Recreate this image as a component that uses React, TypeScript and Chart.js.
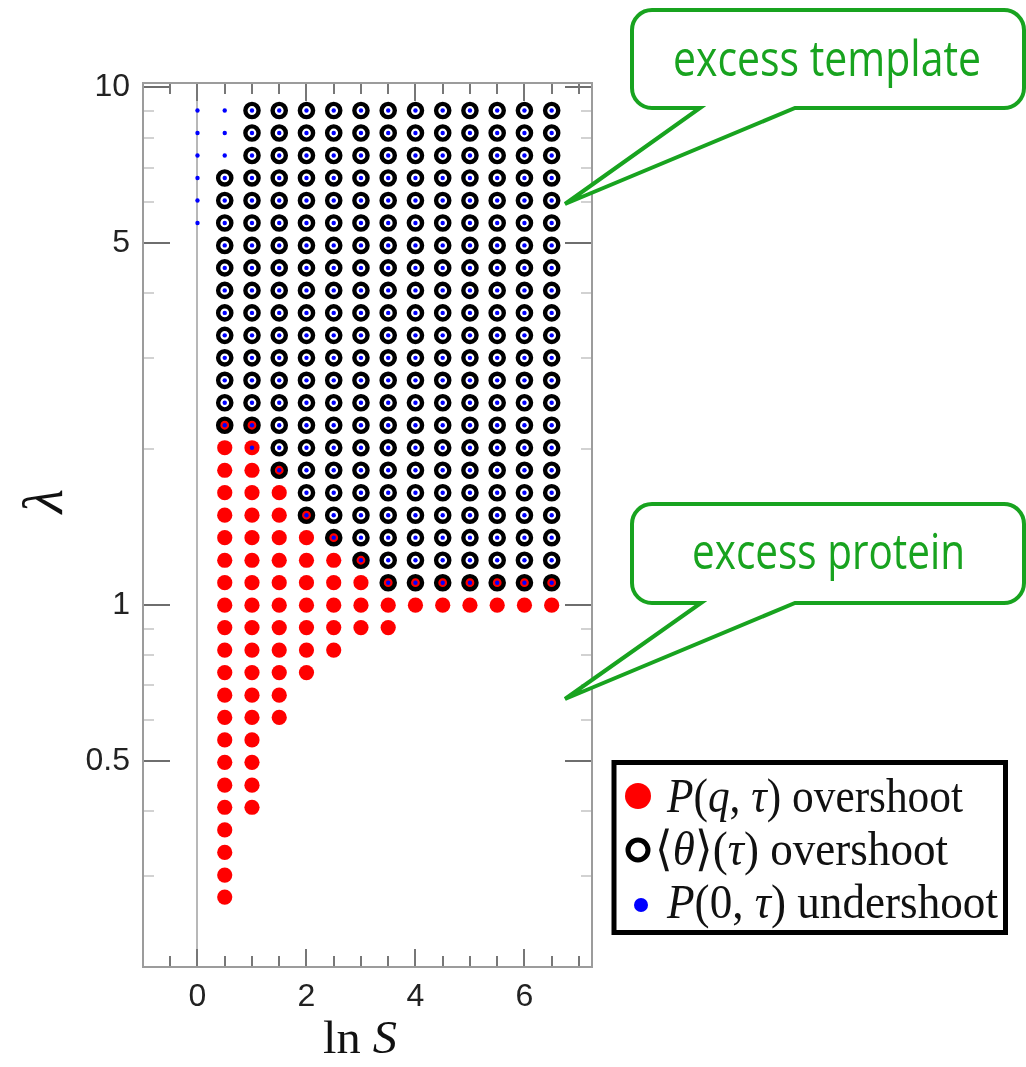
import React, { useEffect, useRef } from "react";
import { Chart, registerables } from "chart.js";
Chart.register(...registerables);

// ln S columns
const lnSValues = [0, 0.5, 1, 1.5, 2, 2.5, 3, 3.5, 4, 4.5, 5, 5.5, 6, 6.5];
// λ levels of the sampled grid (rows)
const lambdaLevels = [
  0.273, 0.301, 0.333, 0.368, 0.407, 0.449, 0.497, 0.549, 0.607, 0.67, 0.741, 0.819, 0.905, 1.0,
  1.105, 1.221, 1.35, 1.492, 1.649, 1.822, 2.014, 2.226, 2.46, 2.718, 3.004, 3.32, 3.669, 4.055,
  4.482, 4.953, 5.474, 6.05, 6.686, 7.389, 8.166, 9.025,
];
// per column: lowest / highest λ where each marker is present (null = none)
const pOvershootLow = [null, 0.273, 0.407, 0.607, 0.741, 0.819, 0.905, 0.905, 1.0, 1.0, 1.0, 1.0, 1.0, 1.0];
const pOvershootHigh = [null, 2.226, 2.226, 1.822, 1.492, 1.35, 1.221, 1.105, 1.105, 1.105, 1.105, 1.105, 1.105, 1.105];
const thetaLow = [null, 2.226, 2.226, 1.822, 1.492, 1.35, 1.221, 1.105, 1.105, 1.105, 1.105, 1.105, 1.105, 1.105];
const thetaHigh = [null, 6.686, 9.025, 9.025, 9.025, 9.025, 9.025, 9.025, 9.025, 9.025, 9.025, 9.025, 9.025, 9.025];
const p0Low = [5.474, 2.226, 2.014, 1.822, 1.492, 1.35, 1.221, 1.105, 1.105, 1.105, 1.105, 1.105, 1.105, 1.105];
const p0High = [9.025, 9.025, 9.025, 9.025, 9.025, 9.025, 9.025, 9.025, 9.025, 9.025, 9.025, 9.025, 9.025, 9.025];

// axis ticks
const xTickLabels = [0, 2, 4, 6];
const xMinorTicks = [-0.5, 0.5, 1, 1.5, 2.5, 3, 3.5, 4.5, 5, 5.5, 6.5, 7];
const yTickLabels = [0.5, 1, 5, 10];
const yMinorTicks = [0.3, 0.4, 0.6, 0.7, 0.8, 0.9, 2, 3, 4, 6, 7, 8, 9];

function buildPoints(low: (number | null)[], high: (number | null)[]) {
  const pts: { x: number; y: number }[] = [];
  lnSValues.forEach((x, i) => {
    const lo = low[i];
    const hi = high[i];
    if (lo == null || hi == null) return;
    lambdaLevels.forEach((l) => {
      if (l >= lo - 1e-9 && l <= hi + 1e-9) pts.push({ x, y: l });
    });
  });
  return pts;
}

const framePlugin = {
  id: "frame",
  beforeDatasetsDraw(chart: any) {
    const { ctx, chartArea: a, scales } = chart;
    const xs = scales.x;
    const ys = scales.y;
    const line = (x1: number, y1: number, x2: number, y2: number) => {
      ctx.beginPath();
      ctx.moveTo(x1, y1);
      ctx.lineTo(x2, y2);
      ctx.stroke();
    };
    ctx.save();
    ctx.lineWidth = 2;
    // zero line
    ctx.strokeStyle = "#b8b8b8";
    const x0 = Math.round(xs.getPixelForValue(0));
    line(x0, a.top, x0, a.bottom);
    // y minor ticks
    ctx.strokeStyle = "#d2d2d2";
    yMinorTicks.forEach((v) => {
      const py = Math.round(ys.getPixelForValue(v));
      line(a.left, py, a.left + 11, py);
      line(a.right, py, a.right - 11, py);
    });
    // y major ticks
    ctx.strokeStyle = "#6e6e6e";
    yTickLabels.forEach((v) => {
      const py = Math.round(ys.getPixelForValue(v));
      line(a.left, py, a.left + 27, py);
      line(a.right, py, a.right - 27, py);
    });
    // x ticks
    ctx.strokeStyle = "#777";
    xMinorTicks.forEach((v) => {
      const px = Math.round(xs.getPixelForValue(v));
      line(px, a.bottom, px, a.bottom - 11);
      line(px, a.top, px, a.top + 11);
    });
    xTickLabels.forEach((v) => {
      const px = Math.round(xs.getPixelForValue(v));
      line(px, a.bottom, px, a.bottom - 18);
      line(px, a.top, px, a.top + 18);
    });
    // frame
    ctx.strokeStyle = "#9c9c9c";
    ctx.strokeRect(a.left, a.top, a.right - a.left, a.bottom - a.top);
    ctx.restore();
  },
};

function calloutPath(x1: number, y1: number, x2: number, y2: number, r: number, bx1: number, bx2: number, tx: number, ty: number) {
  return `M ${x1 + r} ${y1} H ${x2 - r} A ${r} ${r} 0 0 1 ${x2} ${y1 + r} V ${y2 - r} A ${r} ${r} 0 0 1 ${x2 - r} ${y2} H ${bx2} L ${tx} ${ty} L ${bx1} ${y2} H ${x1 + r} A ${r} ${r} 0 0 1 ${x1} ${y2 - r} V ${y1 + r} A ${r} ${r} 0 0 1 ${x1 + r} ${y1} Z`;
}

const GREEN = "#18a31f";

export default function App() {
  const ref = useRef<HTMLCanvasElement | null>(null);
  useEffect(() => {
    if (!ref.current) return;
    const chart = new Chart(ref.current, {
      type: "scatter",
      data: {
        datasets: [
          {
            label: "P(0,τ) undershoot",
            data: buildPoints(p0Low, p0High),
            pointRadius: 2.2,
            pointBackgroundColor: "#0000ff",
            pointBorderWidth: 0,
            order: 1,
          },
          {
            label: "⟨θ⟩(τ) overshoot",
            data: buildPoints(thetaLow, thetaHigh),
            pointRadius: 6.6,
            pointBackgroundColor: "rgba(0,0,0,0)",
            pointBorderColor: "#000",
            pointBorderWidth: 4.4,
            order: 2,
          },
          {
            label: "P(q,τ) overshoot",
            data: buildPoints(pOvershootLow, pOvershootHigh),
            pointRadius: 7.6,
            pointBackgroundColor: "#ff0000",
            pointBorderWidth: 0,
            order: 3,
          },
        ],
      },
      options: {
        animation: false,
        responsive: false,
        devicePixelRatio: 1,
        layout: { padding: { left: 0, top: 83, right: 434, bottom: 0 } },
        plugins: { legend: { display: false }, tooltip: { enabled: false } },
        scales: {
          x: {
            type: "linear",
            min: -1,
            max: 7.24,
            grid: { display: false, drawTicks: false },
            border: { display: false },
            afterBuildTicks: (s: any) => {
              s.ticks = xTickLabels.map((v) => ({ value: v }));
            },
            afterFit: (s: any) => {
              s.height = 100;
            },
            ticks: {
              font: { family: "Liberation Sans", size: 32 },
              color: "#222",
              padding: 11,
              maxRotation: 0,
              autoSkip: false,
              callback: (v: any) => String(v),
            },
          },
          y: {
            type: "logarithmic",
            min: 0.2,
            max: 10.2,
            grid: { display: false, drawTicks: false },
            border: { display: false },
            afterBuildTicks: (s: any) => {
              s.ticks = yTickLabels.map((v) => ({ value: v }));
            },
            afterFit: (s: any) => {
              s.width = 143;
            },
            ticks: {
              font: { family: "Liberation Sans", size: 32 },
              color: "#222",
              padding: 13,
              autoSkip: false,
              callback: (v: any) => String(v),
            },
          },
        },
      },
      plugins: [framePlugin],
    } as any);
    return () => chart.destroy();
  }, []);

  return (
    <div style={{ position: "absolute", left: 0, top: 0, width: 1026, height: 1067, background: "#fff" }}>
      <canvas ref={ref} width={1026} height={1067} style={{ position: "absolute", left: 0, top: 0, width: 1026, height: 1067 }} />
      <svg width={1026} height={1067} style={{ position: "absolute", left: 0, top: 0, pointerEvents: "none" }}>
        {/* callouts */}
        <path d={calloutPath(632, 10, 1024, 108, 20, 700, 795, 565, 204)} fill="#fff" stroke={GREEN} strokeWidth={4} strokeLinejoin="miter" />
        <text x={673} y={76} fontFamily="Open Sans" fontSize={50} fill={GREEN} textLength={308} lengthAdjust="spacingAndGlyphs">excess template</text>
        <path d={calloutPath(632, 504, 1024, 603, 20, 701, 795, 565, 699)} fill="#fff" stroke={GREEN} strokeWidth={4} strokeLinejoin="miter" />
        <text x={692} y={569} fontFamily="Open Sans" fontSize={50} fill={GREEN} textLength={273} lengthAdjust="spacingAndGlyphs">excess protein</text>

        {/* legend */}
        <rect x={614} y={762.5} width={391.5} height={170} fill="#fff" stroke="#000" strokeWidth={5} />
        <circle cx={638} cy={796} r={13} fill="#ff0000" />
        <circle cx={638} cy={850} r={10} fill="none" stroke="#000" strokeWidth={5} />
        <circle cx={641} cy={905} r={7} fill="#0000ff" />
        <text x={667} y={812} fontFamily="Liberation Serif" fontSize={48} fill="#111" textLength={296} lengthAdjust="spacingAndGlyphs">
          <tspan fontStyle="italic">P</tspan>(<tspan fontStyle="italic">q</tspan>, <tspan fontStyle="italic">τ</tspan>) overshoot
        </text>
        <text x={655} y={865} fontFamily="Liberation Serif" fontSize={48} fill="#111" textLength={293} lengthAdjust="spacingAndGlyphs">
          ⟨<tspan fontStyle="italic">θ</tspan>⟩(<tspan fontStyle="italic">τ</tspan>) overshoot
        </text>
        <text x={667} y={918} fontFamily="Liberation Serif" fontSize={48} fill="#111" textLength={331} lengthAdjust="spacingAndGlyphs">
          <tspan fontStyle="italic">P</tspan>(0, <tspan fontStyle="italic">τ</tspan>) undershoot
        </text>

        {/* axis titles */}
        <text x={323} y={1053} fontFamily="Liberation Serif" fontSize={46} fill="#111" textLength={74} lengthAdjust="spacingAndGlyphs">
          ln <tspan fontStyle="italic">S</tspan>
        </text>
        <text transform="translate(62,501) rotate(-90)" x={0} y={0} textAnchor="middle" fontFamily="Liberation Serif" fontStyle="italic" fontSize={56} fill="#111">
          λ
        </text>
      </svg>
    </div>
  );
}
